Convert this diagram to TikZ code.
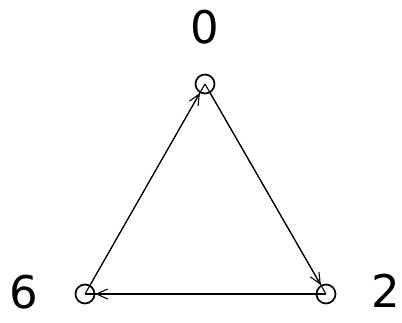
\documentclass[tikz,border=0pt]{standalone}
\usepackage{fontspec}
\setmainfont{DejaVu Sans}
\usetikzlibrary{arrows.meta}
\begin{document}
\begin{tikzpicture}[x=1pt,y=-1pt,
  vert/.style={circle,draw,line width=1.7pt,minimum size=19pt,inner sep=0pt},
  lbl/.style={inner sep=0pt,font=\fontsize{45}{54}\selectfont},
  edge/.style={line width=1.1pt},
  arr/.style={line width=1.1pt,-{Straight Barb[length=11pt,width=10pt,line width=1.1pt]}}]
\useasboundingbox (0,0) rectangle (402,322);
\node[vert] (v0) at (205,84) {};
\node[vert] (v2) at (326,294) {};
\node[vert] (v6) at (85,294) {};
\node[lbl] (l0) at (205,27) {0};
\node[lbl] (l2) at (386,291) {2};
\node[lbl] (l6) at (24,292) {6};
\draw[edge] (v0.center) -- (v2.center);
\draw[edge] (v2.center) -- (v6.center);
\draw[edge] (v6.center) -- (v0.center);
\draw[arr] (v0) -- (v2);
\draw[arr] (v2) -- (v6);
\draw[arr] (v6) -- (v0);
\end{tikzpicture}
\end{document}
